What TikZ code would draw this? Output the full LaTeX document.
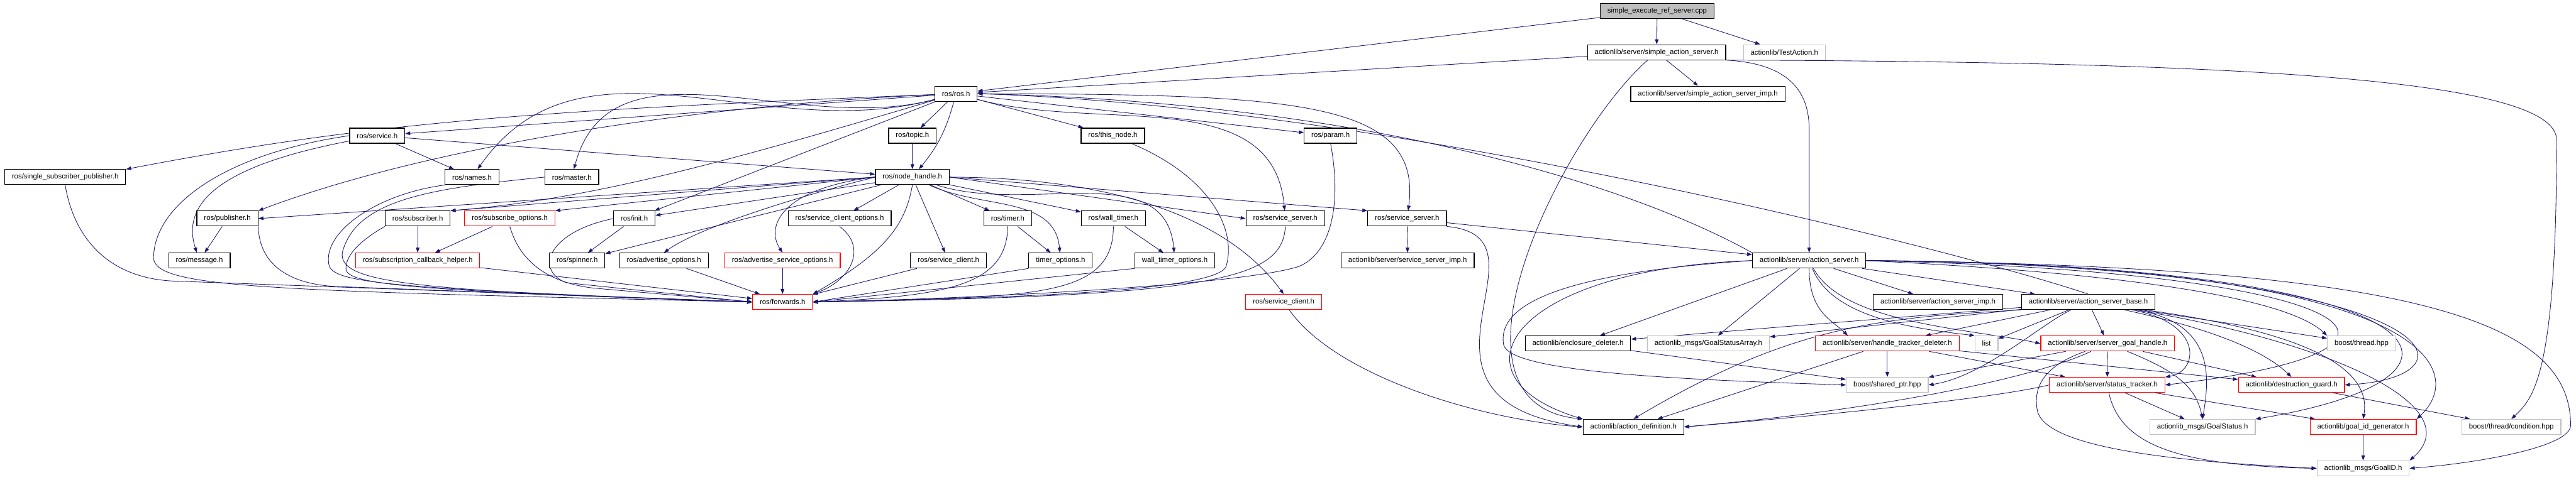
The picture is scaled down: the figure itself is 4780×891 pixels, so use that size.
\documentclass[tikz,border=0pt]{standalone}
\usepackage{fontspec}
\setmainfont{Liberation Sans}
\usetikzlibrary{arrows.meta}
\definecolor{depblue}{HTML}{191970}
\definecolor{extgray}{HTML}{BFBFBF}
\pgfdeclarelayer{edgelayer}
\pgfsetlayers{edgelayer,main}

\begin{document}
\begin{tikzpicture}[x=0.75pt, y=-0.75pt, font=\fontsize{10}{12}\selectfont,
	hdr/.style={draw=black, line width=1pt, fill=white, inner xsep=10pt, inner ysep=0pt, minimum height=21pt},
	hdrtrunc/.style={hdr, draw=red},
	hdrext/.style={hdr, draw=extgray},
	srcfile/.style={hdr, fill=extgray},
	dep/.style={draw=depblue, line width=0.75pt, -{Triangle[length=7pt, width=5pt]}}]
	\useasboundingbox (0,0) rectangle (4780,891);
	% 1. Tệp nguồn và hai tiêu đề trực tiếp
	\node[srcfile] (top) at (3075,20) {simple\_execute\_ref\_server.cpp};
	\node[hdr] (sas) at (3074,97) {actionlib/server/simple\_action\_server.h};
	\node[hdrext] (testact) at (3311,97) {actionlib/TestAction.h};
	\node[hdr] (rosh) at (1774,174) {ros/ros.h};
	\node[hdr] (sasimp) at (3169,174) {actionlib/server/simple\_action\_server\_imp.h};
	% 2. Các tiêu đề ros (hàng 3 và 4)
	\node[hdr] (service) at (700,252) {ros/service.h};
	\node[hdr] (topic) at (1693,252) {ros/topic.h};
	\node[hdr] (thisnode) at (2065,252) {ros/this\_node.h};
	\node[hdr] (param) at (2469,252) {ros/param.h};
	\node[hdr] (ssp) at (121,329) {ros/single\_subscriber\_publisher.h};
	\node[hdr] (names) at (876,329) {ros/names.h};
	\node[hdr] (master) at (1061,329) {ros/master.h};
	\node[hdr] (nh) at (1693,329) {ros/node\_handle.h};
	% 3. Hàng 5
	\node[hdr] (publisher) at (422,406) {ros/publisher.h};
	\node[hdr] (subscriber) at (775,406) {ros/subscriber.h};
	\node[hdrtrunc] (subopt) at (946,406) {ros/subscribe\_options.h};
	\node[hdr] (init) at (1177,406) {ros/init.h};
	\node[hdr] (sco) at (1558,406) {ros/service\_client\_options.h};
	\node[hdr] (timer) at (1870,406) {ros/timer.h};
	\node[hdr] (walltimer) at (2066,406) {ros/wall\_timer.h};
	\node[hdr] (ssrvL) at (2385,406) {ros/service\_server.h};
	\node[hdr] (ssrvR) at (2611,406) {ros/service\_server.h};
	% 4. Hàng 6 và 7
	\node[hdr] (message) at (370,484) {ros/message.h};
	\node[hdrtrunc] (scbh) at (775,484) {ros/subscription\_callback\_helper.h};
	\node[hdr] (spinner) at (1071,484) {ros/spinner.h};
	\node[hdr] (advopt) at (1232,484) {ros/advertise\_options.h};
	\node[hdrtrunc] (advsrvopt) at (1452,484) {ros/advertise\_service\_options.h};
	\node[hdr] (sclient) at (1760,484) {ros/service\_client.h};
	\node[hdr] (timeropt) at (1968,484) {timer\_options.h};
	\node[hdr] (walltimeropt) at (2180,484) {wall\_timer\_options.h};
	\node[hdr] (ssimp) at (2612,484) {actionlib/server/service\_server\_imp.h};
	\node[hdr] (asrv) at (3357,484) {actionlib/server/action\_server.h};
	\node[hdrtrunc] (fwd) at (1452,561) {ros/forwards.h};
	\node[hdrtrunc] (sclientR) at (2382,561) {ros/service\_client.h};
	\node[hdr] (asimp) at (3596,561) {actionlib/server/action\_server\_imp.h};
	\node[hdr] (asbase) at (3875,561) {actionlib/server/action\_server\_base.h};
	% 5. Các tiêu đề actionlib phía dưới
	\node[hdr] (encl) at (2928,638) {actionlib/enclosure\_deleter.h};
	\node[hdrext] (gsa) at (3170,638) {actionlib\_msgs/GoalStatusArray.h};
	\node[hdrtrunc] (htd) at (3502,638) {actionlib/server/handle\_tracker\_deleter.h};
	\node[hdrext] (list) at (3686,638) {list};
	\node[hdrtrunc] (sgh) at (3911,638) {actionlib/server/server\_goal\_handle.h};
	\node[hdrext] (thread) at (4382,638) {boost/thread.hpp};
	\node[hdrext] (shptr) at (3502,715) {boost/shared\_ptr.hpp};
	\node[hdrtrunc] (sttr) at (3910,715) {actionlib/server/status\_tracker.h};
	\node[hdrtrunc] (dguard) at (4252,715) {actionlib/destruction\_guard.h};
	\node[hdr] (actdef) at (3031,793) {actionlib/action\_definition.h};
	\node[hdrext] (gstat) at (4087,793) {actionlib\_msgs/GoalStatus.h};
	\node[hdrtrunc] (gidgen) at (4385,793) {actionlib/goal\_id\_generator.h};
	\node[hdrext] (cond) at (4660,793) {boost/thread/condition.hpp};
	\node[hdrext] (goalid) at (4385,870) {actionlib\_msgs/GoalID.h};

	\begin{pgfonlayer}{edgelayer}
	% 6. Tệp nguồn và simple_action_server.h
	\draw[dep] (top) -- (rosh);
	\draw[dep] (top) -- (sas);
	\draw[dep] (top) -- (testact);
	\draw[dep] (sas) -- (rosh);
	\draw[dep] (sas) -- (sasimp);
	\draw[dep] (sas) .. controls (2900,250) and (2650,750) .. (actdef.north west);
	\draw[dep] (sas.south east) .. controls (3320,118) and (3357,170) .. (3357,240) -- (asrv.north);
	\draw[dep] (sas.south east) .. controls (4200,115) and (4744,150) .. (4744,260) .. controls (4744,700) and (4700,740) .. (cond.north);
	% 7. ros/ros.h
	\draw[dep] (rosh) -- (service);
	\draw[dep] (rosh) .. controls (1000,205) and (700,225) .. (ssp.north east);
	\draw[dep] (rosh) to[out=195,in=55] (names);
	\draw[dep] (rosh) to[out=195,in=75] (master);
	\draw[dep] (rosh) .. controls (1300,195) and (800,270) .. (publisher.north east);
	\draw[dep] (rosh) .. controls (1350,300) and (1100,370) .. (subscriber.north east);
	\draw[dep] (rosh) -- (init);
	\draw[dep] (rosh) -- (topic);
	\draw[dep] (rosh) to[bend left=12] (nh);
	\draw[dep] (rosh) -- (thisnode);
	\draw[dep] (rosh) -- (param);
	\draw[dep] (rosh) to[out=-15,in=95] (ssrvL);
	\draw[dep] (rosh) .. controls (2400,175) and (2640,185) .. (ssrvR);
	% 8. ros/service.h và các tiêu đề ros khác
	\draw[dep] (service) -- (names);
	\draw[dep] (service) -- (nh);
	\draw[dep] (service) .. controls (450,300) and (330,360) .. (message);
	\draw[dep] (service.west) .. controls (420,285) and (285,380) .. (285,480) .. controls (290,535) and (500,540) .. (fwd.west);
	\draw[dep] (ssp.south) .. controls (135,430) and (190,515) .. (320,522) -- (fwd.west);
	\draw[dep] (names.south west) .. controls (700,360) and (600,430) .. (610,490) .. controls (615,525) and (700,535) .. (fwd.west);
	\draw[dep] (master.west) .. controls (800,350) and (660,370) .. (635,470) .. controls (630,525) and (760,540) .. (fwd.west);
	\draw[dep] (publisher) -- (message);
	\draw[dep] (publisher.south east) .. controls (480,470) and (510,525) .. (620,532) -- (fwd.west);
	\draw[dep] (subscriber) -- (scbh);
	\draw[dep] (subscriber.south west) .. controls (680,440) and (640,470) .. (642,500) .. controls (645,530) and (780,540) .. (fwd.west);
	\draw[dep] (subopt) -- (scbh);
	\draw[dep] (subopt.south) .. controls (955,450) and (980,520) .. (1100,535) -- (fwd.west);
	\draw[dep] (scbh) -- (fwd);
	\draw[dep] (init) -- (spinner);
	\draw[dep] (init.west) .. controls (1020,430) and (990,500) .. (1050,525) -- (fwd.west);
	\draw[dep] (topic) -- (nh);
	\draw[dep] (thisnode) .. controls (2250,330) and (2295,430) .. (2275,495) .. controls (2255,545) and (1800,555) .. (fwd.east);
	\draw[dep] (param.south) .. controls (2490,380) and (2470,470) .. (2410,495) .. controls (2300,530) and (1800,555) .. (fwd.east);
	% 9. ros/node_handle.h
	\draw[dep] (nh.west) -- (publisher.east);
	\draw[dep] (nh.west) -- (subscriber.north east);
	\draw[dep] (nh.west) -- (subopt.north east);
	\draw[dep] (nh) -- (init);
	\draw[dep] (nh) -- (spinner);
	\draw[dep] (nh.west) .. controls (1500,360) and (1300,420) .. (advopt.north);
	\draw[dep] (nh.west) .. controls (1450,350) and (1420,420) .. (advsrvopt.north);
	\draw[dep] (nh.south) .. controls (1680,420) and (1640,470) .. (fwd.north east);
	\draw[dep] (nh) -- (sco);
	\draw[dep] (nh) -- (sclient);
	\draw[dep] (nh) -- (timer);
	\draw[dep] (nh) to[out=-25,in=95] (timeropt);
	\draw[dep] (nh) -- (walltimer);
	\draw[dep] (nh) to[out=-18,in=95] (walltimeropt);
	\draw[dep] (nh.east) -- (ssrvL.west);
	\draw[dep] (nh.east) -- (ssrvR.north west);
	\draw[dep] (nh.east) .. controls (2100,330) and (2290,420) .. (sclientR.north);
	% 10. Các tiêu đề tùy chọn vào ros/forwards.h
	\draw[dep] (sco.south) .. controls (1610,460) and (1580,520) .. (fwd.north east);
	\draw[dep] (advopt) -- (fwd);
	\draw[dep] (advsrvopt) -- (fwd);
	\draw[dep] (sclient) -- (fwd);
	\draw[dep] (timer) -- (timeropt);
	\draw[dep] (timer.south) .. controls (1868,530) and (1760,550) .. (fwd.east);
	\draw[dep] (timeropt.south west) -- (fwd.east);
	\draw[dep] (walltimer) -- (walltimeropt);
	\draw[dep] (walltimer.south) .. controls (2066,560) and (1900,550) .. (fwd.east);
	\draw[dep] (walltimeropt.south west) -- (fwd.east);
	\draw[dep] (ssrvL.south) .. controls (2380,520) and (2250,550) .. (fwd.east);
	% 11. service_server.h bên phải và service_client.h màu đỏ
	\draw[dep] (ssrvR) -- (ssimp);
	\draw[dep] (ssrvR) -- (asrv);
	\draw[dep] (ssrvR.south east) .. controls (2900,440) and (2560,740) .. (actdef.west);
	\draw[dep] (sclientR) .. controls (2480,700) and (2750,780) .. (actdef.west);
	% 12. actionlib/server/action_server.h
	\draw[dep] (asrv.north west) .. controls (3000,330) and (2500,190) .. (rosh.east);
	\draw[dep] (asrv.west) .. controls (2800,500) and (2680,700) .. (actdef.north west);
	\draw[dep] (asrv.west) .. controls (2850,510) and (2780,580) .. (2790,640) .. controls (2800,690) and (3100,705) .. (shptr.west);
	\draw[dep] (asrv) -- (encl);
	\draw[dep] (asrv) -- (gsa);
	\draw[dep] (asrv.south) .. controls (3357,580) and (3400,595) .. ([xshift=-55pt]htd.north);
	\draw[dep] (asrv) -- (asimp);
	\draw[dep] (asrv) -- (asbase);
	\draw[dep] (asrv) .. controls (3400,590) and (3550,610) .. (list.north west);
	\draw[dep] (asrv) .. controls (3420,600) and (3650,610) .. (sgh.west);
	\draw[dep] (asrv.east) .. controls (4000,510) and (4250,560) .. (thread.north west);
	\draw[dep] (asrv.east) .. controls (4400,505) and (4580,650) .. (sttr.east);
	\draw[dep] (asrv.east) .. controls (4550,495) and (4620,700) .. (dguard.east);
	\draw[dep] (asrv.east) .. controls (4560,490) and (4660,700) .. (gstat.north east);
	\draw[dep] (asrv.east) .. controls (4520,490) and (4580,690) .. (gidgen.north east);
	\draw[dep] (asrv.east) .. controls (4500,495) and (4770,600) .. (4770,790) .. controls (4770,830) and (4600,860) .. (goalid.east);
	% 13. actionlib/server/action_server_base.h
	\draw[dep] (asbase.north) .. controls (3650,470) and (2600,200) .. (rosh.east);
	\draw[dep] (asbase) -- (encl);
	\draw[dep] (asbase) -- (gsa);
	\draw[dep] (asbase) -- (htd);
	\draw[dep] (asbase) -- (list);
	\draw[dep] (asbase) -- (sgh);
	\draw[dep] (asbase) -- (thread);
	\draw[dep] (asbase) .. controls (4090,600) and (4080,690) .. (sttr.north east);
	\draw[dep] (asbase) .. controls (4100,610) and (4200,650) .. (dguard.north);
	\draw[dep] (asbase) .. controls (4110,600) and (4100,700) .. (gstat.north);
	\draw[dep] (asbase) .. controls (4300,620) and (4400,690) .. (gidgen.north);
	\draw[dep] (asbase) .. controls (4350,640) and (4580,760) .. (goalid.north east);
	\draw[dep] (asbase.south west) .. controls (3500,590) and (3330,600) .. (actdef.north);
	\draw[dep] (asbase) .. controls (3790,600) and (3680,700) .. (shptr.east);
	% 14. Các tiêu đề actionlib còn lại
	\draw[dep] (encl) -- (shptr);
	\draw[dep] (htd) -- (shptr);
	\draw[dep] (htd) -- (actdef);
	\draw[dep] (htd) -- (sttr);
	\draw[dep] (htd) -- (dguard);
	\draw[dep] (sgh) -- (sttr);
	\draw[dep] (sgh) -- (dguard);
	\draw[dep] (sgh) -- (shptr);
	\draw[dep] (sgh) .. controls (4040,690) and (4075,720) .. (gstat.north);
	\draw[dep] (sgh) .. controls (3820,670) and (3770,700) .. (3780,760) .. controls (3790,840) and (4100,860) .. (goalid.west);
	\draw[dep] (sgh) .. controls (3780,700) and (3500,760) .. (actdef.east);
	\draw[dep] (sttr) -- (gstat);
	\draw[dep] (sttr) -- (gidgen);
	\draw[dep] (sttr) .. controls (3935,830) and (4050,865) .. (goalid.west);
	\draw[dep] (sttr.west) .. controls (3700,740) and (3400,770) .. (actdef.east);
	\draw[dep] (dguard) -- (cond);
	\draw[dep] (gidgen) -- (goalid);
	\end{pgfonlayer}
\end{tikzpicture}
\end{document}
